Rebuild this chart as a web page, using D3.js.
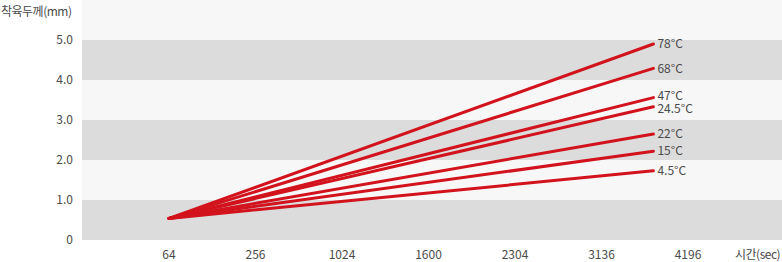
<!DOCTYPE html>
<html><head><meta charset="utf-8">
<script src="https://cdn.jsdelivr.net/npm/d3@7"></script>
<style>
html,body{margin:0;padding:0;background:#fff;}
svg{display:block;font-family:"Noto Sans CJK KR","Noto Sans",sans-serif;}
</style></head>
<body><svg id="c" width="782" height="262"></svg>
<script>
const xCategories = ["64","256","1024","1600","2304","3136","4196"];
const yTicks = [0,1,2,3,4,5];
const yTickLabels = ["0","1.0","2.0","3.0","4.0","5.0"];
const seriesNames = ["78°C","68°C","47°C","24.5°C","22°C","15°C","4.5°C"];
const startIndex = 0, endIndex = 5.6;
const startValue = 0.54;
const endValues = [4.9,4.29,3.56,3.33,2.65,2.22,1.73];
const yTitle = "착육두께(mm)";
const xTitle = "시간(sec)";

(function(){
const svg = d3.select("#c");
const pL = 82, pR = 782, pB = 240;
const y = d3.scaleLinear().domain([0,5]).range([pB, 40]);
const x = d3.scaleLinear().domain([0, xCategories.length-1]).range([169, 688]);

svg.append("rect").attr("x",pL).attr("y",0).attr("width",pR-pL).attr("height",y(5)).attr("fill","#f7f7f7");
svg.selectAll("rect.band").data(d3.range(0,5)).enter().append("rect")
  .attr("class","band").attr("x",pL).attr("width",pR-pL)
  .attr("y",d=>y(d+1)).attr("height",d=>y(d)-y(d+1))
  .attr("fill",d=>d%2===0?"#dcdcdc":"#f7f7f7");

const txt = "#4a4a4a";
svg.selectAll("text.yt").data(yTicks).enter().append("text")
  .attr("class","yt").attr("x",73).attr("y",d=>y(d)).attr("dy","0.35em")
  .attr("text-anchor","end").attr("font-size",12).attr("fill",txt)
  .text((d,i)=>yTickLabels[i]);
svg.append("text").attr("x",1).attr("y",16)
  .attr("font-size",12).attr("letter-spacing","-0.5px").attr("fill",txt).text(yTitle);

svg.selectAll("text.xt").data(xCategories).enter().append("text")
  .attr("class","xt").attr("x",(d,i)=>x(i)).attr("y",255).attr("dy","0.35em")
  .attr("text-anchor","middle").attr("font-size",12).attr("fill",txt).text(d=>d);
svg.append("text").attr("x",735).attr("y",255).attr("dy","0.35em")
  .attr("font-size",12).attr("letter-spacing","-0.5px").attr("fill",txt).text(xTitle);

const line = d3.line().x(d=>x(d[0])).y(d=>y(d[1]));
svg.selectAll("path.s").data(endValues).enter().append("path")
  .attr("class","s").attr("fill","none").attr("stroke","#d2121c")
  .attr("stroke-width",3).attr("stroke-linecap","round")
  .attr("d",v=>line([[startIndex,startValue],[endIndex,v]]));

const ly = endValues.map(v=>y(v));
const minGap = 13;
for (let k=0;k<3;k++){
  for (let i=1;i<ly.length;i++){
    const gap = ly[i]-ly[i-1];
    if (gap<minGap){ const d=(minGap-gap)/2; ly[i-1]-=d; ly[i]+=d; }
  }
}
svg.selectAll("text.lb").data(seriesNames).enter().append("text")
  .attr("class","lb").attr("x",x(endIndex)+4).attr("y",(d,i)=>ly[i]).attr("dy","0.35em")
  .attr("font-size",12).attr("fill",txt).text(d=>d);
})();
</script></body></html>
